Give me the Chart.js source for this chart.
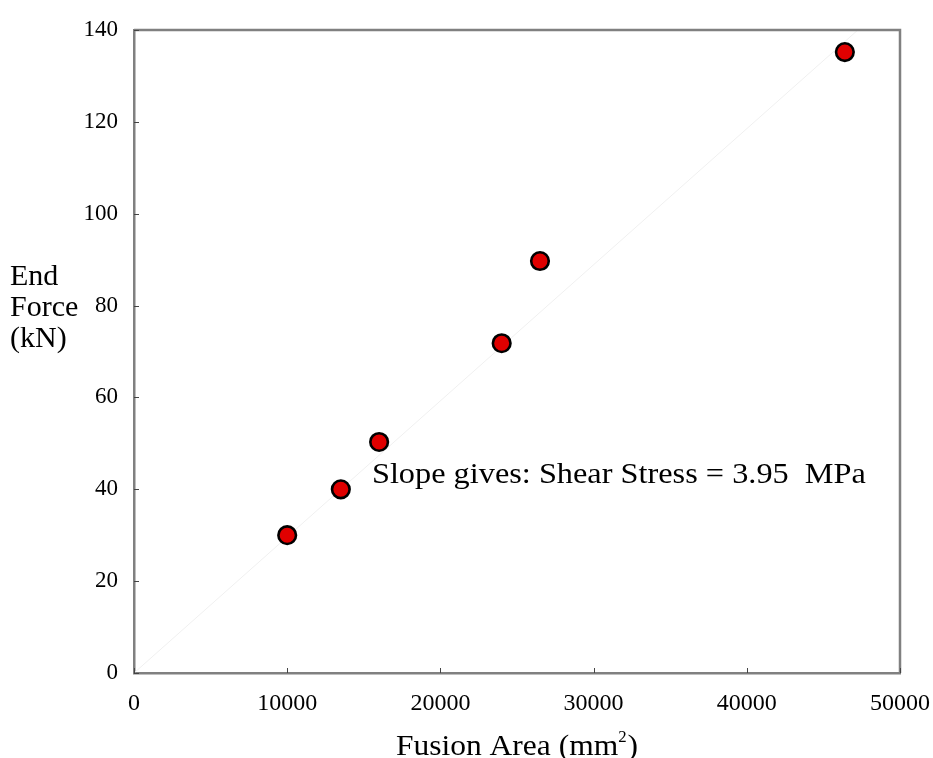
<!DOCTYPE html>
<html><head><meta charset="utf-8">
<script src="https://cdn.jsdelivr.net/npm/chart.js@4/dist/chart.umd.min.js"></script>
<style>html,body{margin:0;padding:0;background:#fff;} #wrap{width:933px;height:758px;position:relative;}</style>
</head><body><div id="wrap"><canvas id="c" width="933" height="758"></canvas></div>
<script>
// ---- data ----
const fusionArea = [10000, 13500, 16000, 24000, 26500, 46400];
const endForce   = [30, 40, 50.3, 71.8, 89.7, 135.2];
const fitLineX   = [0, 47250];
const fitLineY   = [0, 140];
const xTickValues = [0, 10000, 20000, 30000, 40000, 50000];
const yTickValues = [0, 20, 40, 60, 80, 100, 120, 140];
const xTitleMain = 'Fusion Area (mm';
const xTitleSup = '2';
const xTitleEnd = ')';
const yTitleLines = ['End', 'Force', '(kN)'];
const annotationText = 'Slope gives: Shear Stress = 3.95  MPa';
const annotationAt = [15530, 41.3];

const SERIF = '"Liberation Serif", "Times New Roman", serif';
const AXIS_GRAY = '#808080';

const points = fusionArea.map((x, i) => ({x, y: endForce[i]}));
const fitPts = fitLineX.map((x, i) => ({x, y: fitLineY[i]}));

const framePlugin = {
  id: 'frame',
  afterDatasetsDraw(chart) {
    const {ctx, chartArea: a, scales: {x, y}} = chart;
    ctx.save();
    ctx.strokeStyle = AXIS_GRAY;
    ctx.lineWidth = 2.5;
    ctx.beginPath();
    ctx.moveTo(a.left, a.top); ctx.lineTo(a.right, a.top); ctx.lineTo(a.right, a.bottom);
    ctx.stroke();
    // inward tick marks
    ctx.strokeStyle = '#444';
    ctx.lineWidth = 1;
    xTickValues.forEach(v => {
      const px = Math.round(x.getPixelForValue(v)) + 0.5;
      ctx.beginPath(); ctx.moveTo(px, a.bottom); ctx.lineTo(px, a.bottom - 5); ctx.stroke();
    });
    yTickValues.forEach(v => {
      const py = Math.round(y.getPixelForValue(v)) + 0.5;
      ctx.beginPath(); ctx.moveTo(a.left, py); ctx.lineTo(a.left + 5, py); ctx.stroke();
    });
    ctx.restore();
  },
  afterDraw(chart) {
    const {ctx, chartArea: a, scales: {x, y}} = chart;
    ctx.save();
    ctx.fillStyle = '#000';
    // annotation
    ctx.font = '30px ' + SERIF;
    ctx.textBaseline = 'alphabetic';
    ctx.textAlign = 'left';
    const ax = x.getPixelForValue(annotationAt[0]);
    const ay = y.getPixelForValue(annotationAt[1]);
    const w = ctx.measureText(annotationText).width;
    const sx = 494 / w;
    ctx.save();
    ctx.translate(ax, ay);
    ctx.scale(sx, 1);
    ctx.fillText(annotationText, 0, 0);
    ctx.restore();
    // x title
    ctx.font = '30px ' + SERIF;
    const w1 = ctx.measureText(xTitleMain).width;
    ctx.font = '16px ' + SERIF;
    const w2 = ctx.measureText(xTitleSup).width;
    ctx.font = '30px ' + SERIF;
    const w3 = ctx.measureText(xTitleEnd).width;
    const xs = 1.05;
    const total = (w1 + w2 + 1 + w3) * xs;
    const cx = (a.left + a.right) / 2;
    const base = 755;
    ctx.save();
    ctx.translate(cx - total / 2, base);
    ctx.scale(xs, 1);
    let tx = 0;
    ctx.fillText(xTitleMain, tx, 0); tx += w1;
    ctx.font = '16px ' + SERIF;
    ctx.fillText(xTitleSup, tx, -13); tx += w2 + 1;
    ctx.font = '30px ' + SERIF;
    ctx.fillText(xTitleEnd, tx, 0);
    ctx.restore();
    // y title
    ctx.font = '30px ' + SERIF;
    yTitleLines.forEach((t, i) => ctx.fillText(t, 10, 285 + i * 31));
    ctx.restore();
  }
};

new Chart(document.getElementById('c'), {
  type: 'scatter',
  data: {
    datasets: [
      {
        type: 'line',
        data: fitPts,
        borderColor: '#f0f0f0',
        borderWidth: 1,
        pointRadius: 0,
        fill: false,
        order: 2
      },
      {
        data: points,
        pointRadius: 8.8,
        pointBorderWidth: 2.6,
        backgroundColor: '#e00000',
        borderColor: '#000000',
        order: 1
      }
    ]
  },
  options: {
    responsive: false,
    animation: false,
    devicePixelRatio: 1,
    layout: {padding: {top: 30, right: 33, left: 0, bottom: 0}},
    plugins: {legend: {display: false}, tooltip: {enabled: false}},
    scales: {
      x: {
        type: 'linear', min: 0, max: 50000,
        afterBuildTicks: s => { s.ticks = xTickValues.map(v => ({value: v})); },
        afterFit: s => { s.height = 85; s.paddingLeft = 0; s.paddingRight = 0; },
        grid: {display: false, drawTicks: false},
        border: {display: true, color: AXIS_GRAY, width: 2.5},
        ticks: {
          callback: v => String(v),
          font: {family: SERIF, size: 24},
          color: '#000',
          padding: 16,
          maxRotation: 0,
          autoSkip: false
        }
      },
      y: {
        type: 'linear', min: 0, max: 140,
        afterBuildTicks: s => { s.ticks = yTickValues.map(v => ({value: v})); },
        afterFit: s => { s.width = 134; s.paddingTop = 0; s.paddingBottom = 0; },
        grid: {display: false, drawTicks: false},
        border: {display: true, color: AXIS_GRAY, width: 2.5},
        ticks: {
          callback: v => String(v),
          font: {family: SERIF, size: 23},
          color: '#000',
          padding: 16,
          autoSkip: false
        }
      }
    }
  },
  plugins: [framePlugin]
});
</script>
</body></html>
